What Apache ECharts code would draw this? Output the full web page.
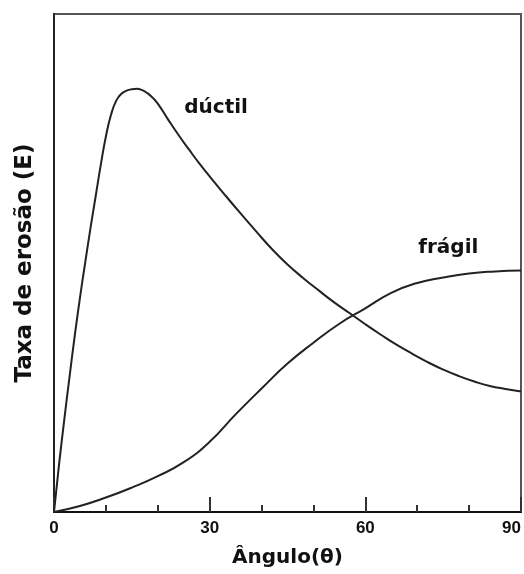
<!DOCTYPE html>
<html>
<head>
<meta charset="utf-8">
<script src="https://cdn.jsdelivr.net/npm/echarts@6/dist/echarts.min.js"></script>
<style>
html,body{margin:0;padding:0;background:#fff;}
#chart{width:524px;height:574px;}
</style>
</head>
<body>
<div id="chart"></div>
<script>
// Angle (degrees) and erosion rate (arbitrary units 0-100)
const ductileAngle = [0, 1, 2, 3, 4, 5, 6, 7, 8, 9, 10, 11, 12, 13, 14, 15, 16, 17, 18, 19, 20, 22, 24, 26, 28, 30, 33, 36, 39, 42, 45, 48, 51, 54, 57, 60, 63, 66, 69, 72, 75, 78, 81, 84, 87, 90];
const ductileRate  = [0, 9.8, 18.7, 27.2, 35.4, 43.0, 50.0, 56.8, 63.2, 69.6, 75.4, 79.8, 82.6, 84.0, 84.6, 84.9, 85.0, 84.7, 84.1, 83.2, 82.0, 78.8, 75.7, 72.8, 70.0, 67.4, 63.6, 59.9, 56.3, 52.8, 49.7, 47.0, 44.5, 42.1, 39.9, 37.7, 35.6, 33.6, 31.8, 30.1, 28.6, 27.3, 26.2, 25.3, 24.7, 24.2];
const fragileAngle = [0, 5, 10, 15, 20, 25, 30, 35, 40, 45, 50, 55, 60, 65, 70, 75, 80, 85, 90];
const fragileRate  = [0, 1.2, 2.9, 4.9, 7.2, 10.0, 14.1, 19.6, 24.8, 29.8, 34.0, 37.8, 40.9, 44.0, 46.0, 47.1, 47.9, 48.3, 48.5];
const xTicks = [0, 30, 60, 90];
const labelNames = ['dúctil', 'frágil'];
const labelAngle = [25.1, 70.2];
const labelRate = [79.1, 51.0];

const pair = (xs, ys) => xs.map((x, i) => [x, ys[i]]);

const chart = echarts.init(document.getElementById('chart'), null, {renderer: 'canvas'});
chart.setOption({
  animation: false,
  backgroundColor: '#fff',
  grid: {left: 54, right: 3, top: 14, bottom: 62, show: true, borderColor: '#555', borderWidth: 2},
  xAxis: {
    type: 'value', min: xTicks[0], max: xTicks[xTicks.length - 1], interval: 30,
    axisLine: {lineStyle: {color: '#111', width: 2}},
    axisTick: {inside: true, length: 15, lineStyle: {color: '#333', width: 2}},
    minorTick: {show: true, splitNumber: 3, length: 7, lineStyle: {color: '#333', width: 2}},
    splitLine: {show: false},
    axisLabel: {margin: 8, fontFamily: 'Liberation Sans', fontWeight: 'bold', fontSize: 17, color: '#111', alignMaxLabel: 'right'},
    name: 'Ângulo(θ)', nameLocation: 'middle', nameGap: 36,
    nameTextStyle: {fontFamily: 'DejaVu Sans', fontWeight: 'bold', fontSize: 20, color: '#111'}
  },
  yAxis: {
    type: 'value', min: 0, max: 100,
    axisLine: {show: true, lineStyle: {color: '#222', width: 2}},
    axisTick: {show: false}, axisLabel: {show: false}, splitLine: {show: false},
    name: 'Taxa de erosão (E)', nameLocation: 'middle', nameGap: 17, nameRotate: 90,
    nameTextStyle: {fontFamily: 'DejaVu Sans', fontWeight: 'bold', fontSize: 23, color: '#111'}
  },
  series: [
    {type: 'line', data: pair(ductileAngle, ductileRate), smooth: 0.5, symbol: 'none', lineStyle: {color: '#222', width: 2}},
    {type: 'line', data: pair(fragileAngle, fragileRate), smooth: 0.5, symbol: 'none', lineStyle: {color: '#222', width: 2}}
  ]
});

const texts = labelNames.map((t, i) => {
  const p = chart.convertToPixel({gridIndex: 0}, [labelAngle[i], labelRate[i]]);
  return {type: 'text', x: p[0], y: p[1], style: {text: t, fontFamily: 'DejaVu Sans', fontWeight: 'bold', fontSize: 20, fill: '#111', textAlign: 'left', textVerticalAlign: 'bottom'}};
});
chart.setOption({graphic: texts});
</script>
</body>
</html>
